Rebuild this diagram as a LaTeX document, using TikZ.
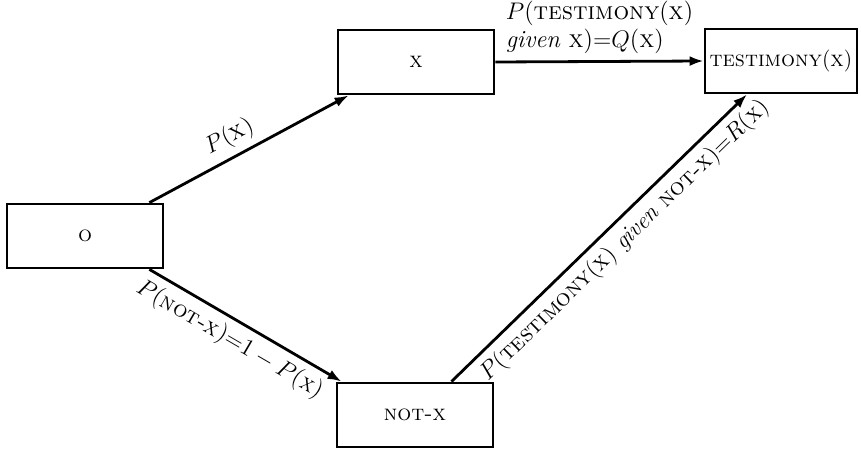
\documentclass[tikz,border=0pt]{standalone}
\usetikzlibrary{arrows.meta}
\tikzset{
  box/.style={draw,line width=1.4pt,minimum width=78pt,minimum height=32pt,inner sep=0pt,font=\fontsize{11}{13}\selectfont},
  link/.style={line width=1.4pt,-{Latex[length=7pt,width=5pt]}},
  every node/.style={font=\fontsize{12.3}{14}\selectfont},
}
\begin{document}
\begin{tikzpicture}[x=0.5pt,y=-0.5pt]
\useasboundingbox (0,0) rectangle (861,449);
% the four states
\node[box] (o) at (85,236) {\textsc{o}};
\node[box] (x) at (416,62) {\textsc{x}};
\node[box,minimum width=76pt] (t) at (781,61) {\textsc{testimony}(\textsc{x})};
\node[box] (notx) at (415,415) {\textsc{not-x}};
% transitions with their probabilities
\draw[link] ([xshift=-7.5pt]o.north east) -- node[sloped,above,pos=0.45] {$P(\textsc{x})$} ([xshift=6pt]x.south west);
\draw[link] ([xshift=-7.5pt]o.south east) -- node[sloped,below,pos=0.47,font=\fontsize{11.5}{14}\selectfont] {$P(\textsc{not-x}){=}1-P(\textsc{x})$} ([xshift=3pt]notx.north west);
\draw[link] (x.east) -- node[above,align=left] {$P$(\textsc{testimony}(\textsc{x})\\ \textit{given} \textsc{x})${=}Q$(\textsc{x})} (t.west);
\draw[link] ([xshift=-21.5pt]notx.north east) -- node[sloped,below,pos=0.54,font=\fontsize{11.8}{14}\selectfont] {$P$(\textsc{testimony}(\textsc{x}) \textit{given} \textsc{not-x})${=}R$(\textsc{x})} ([xshift=-17pt]t.south);
\end{tikzpicture}
\end{document}
